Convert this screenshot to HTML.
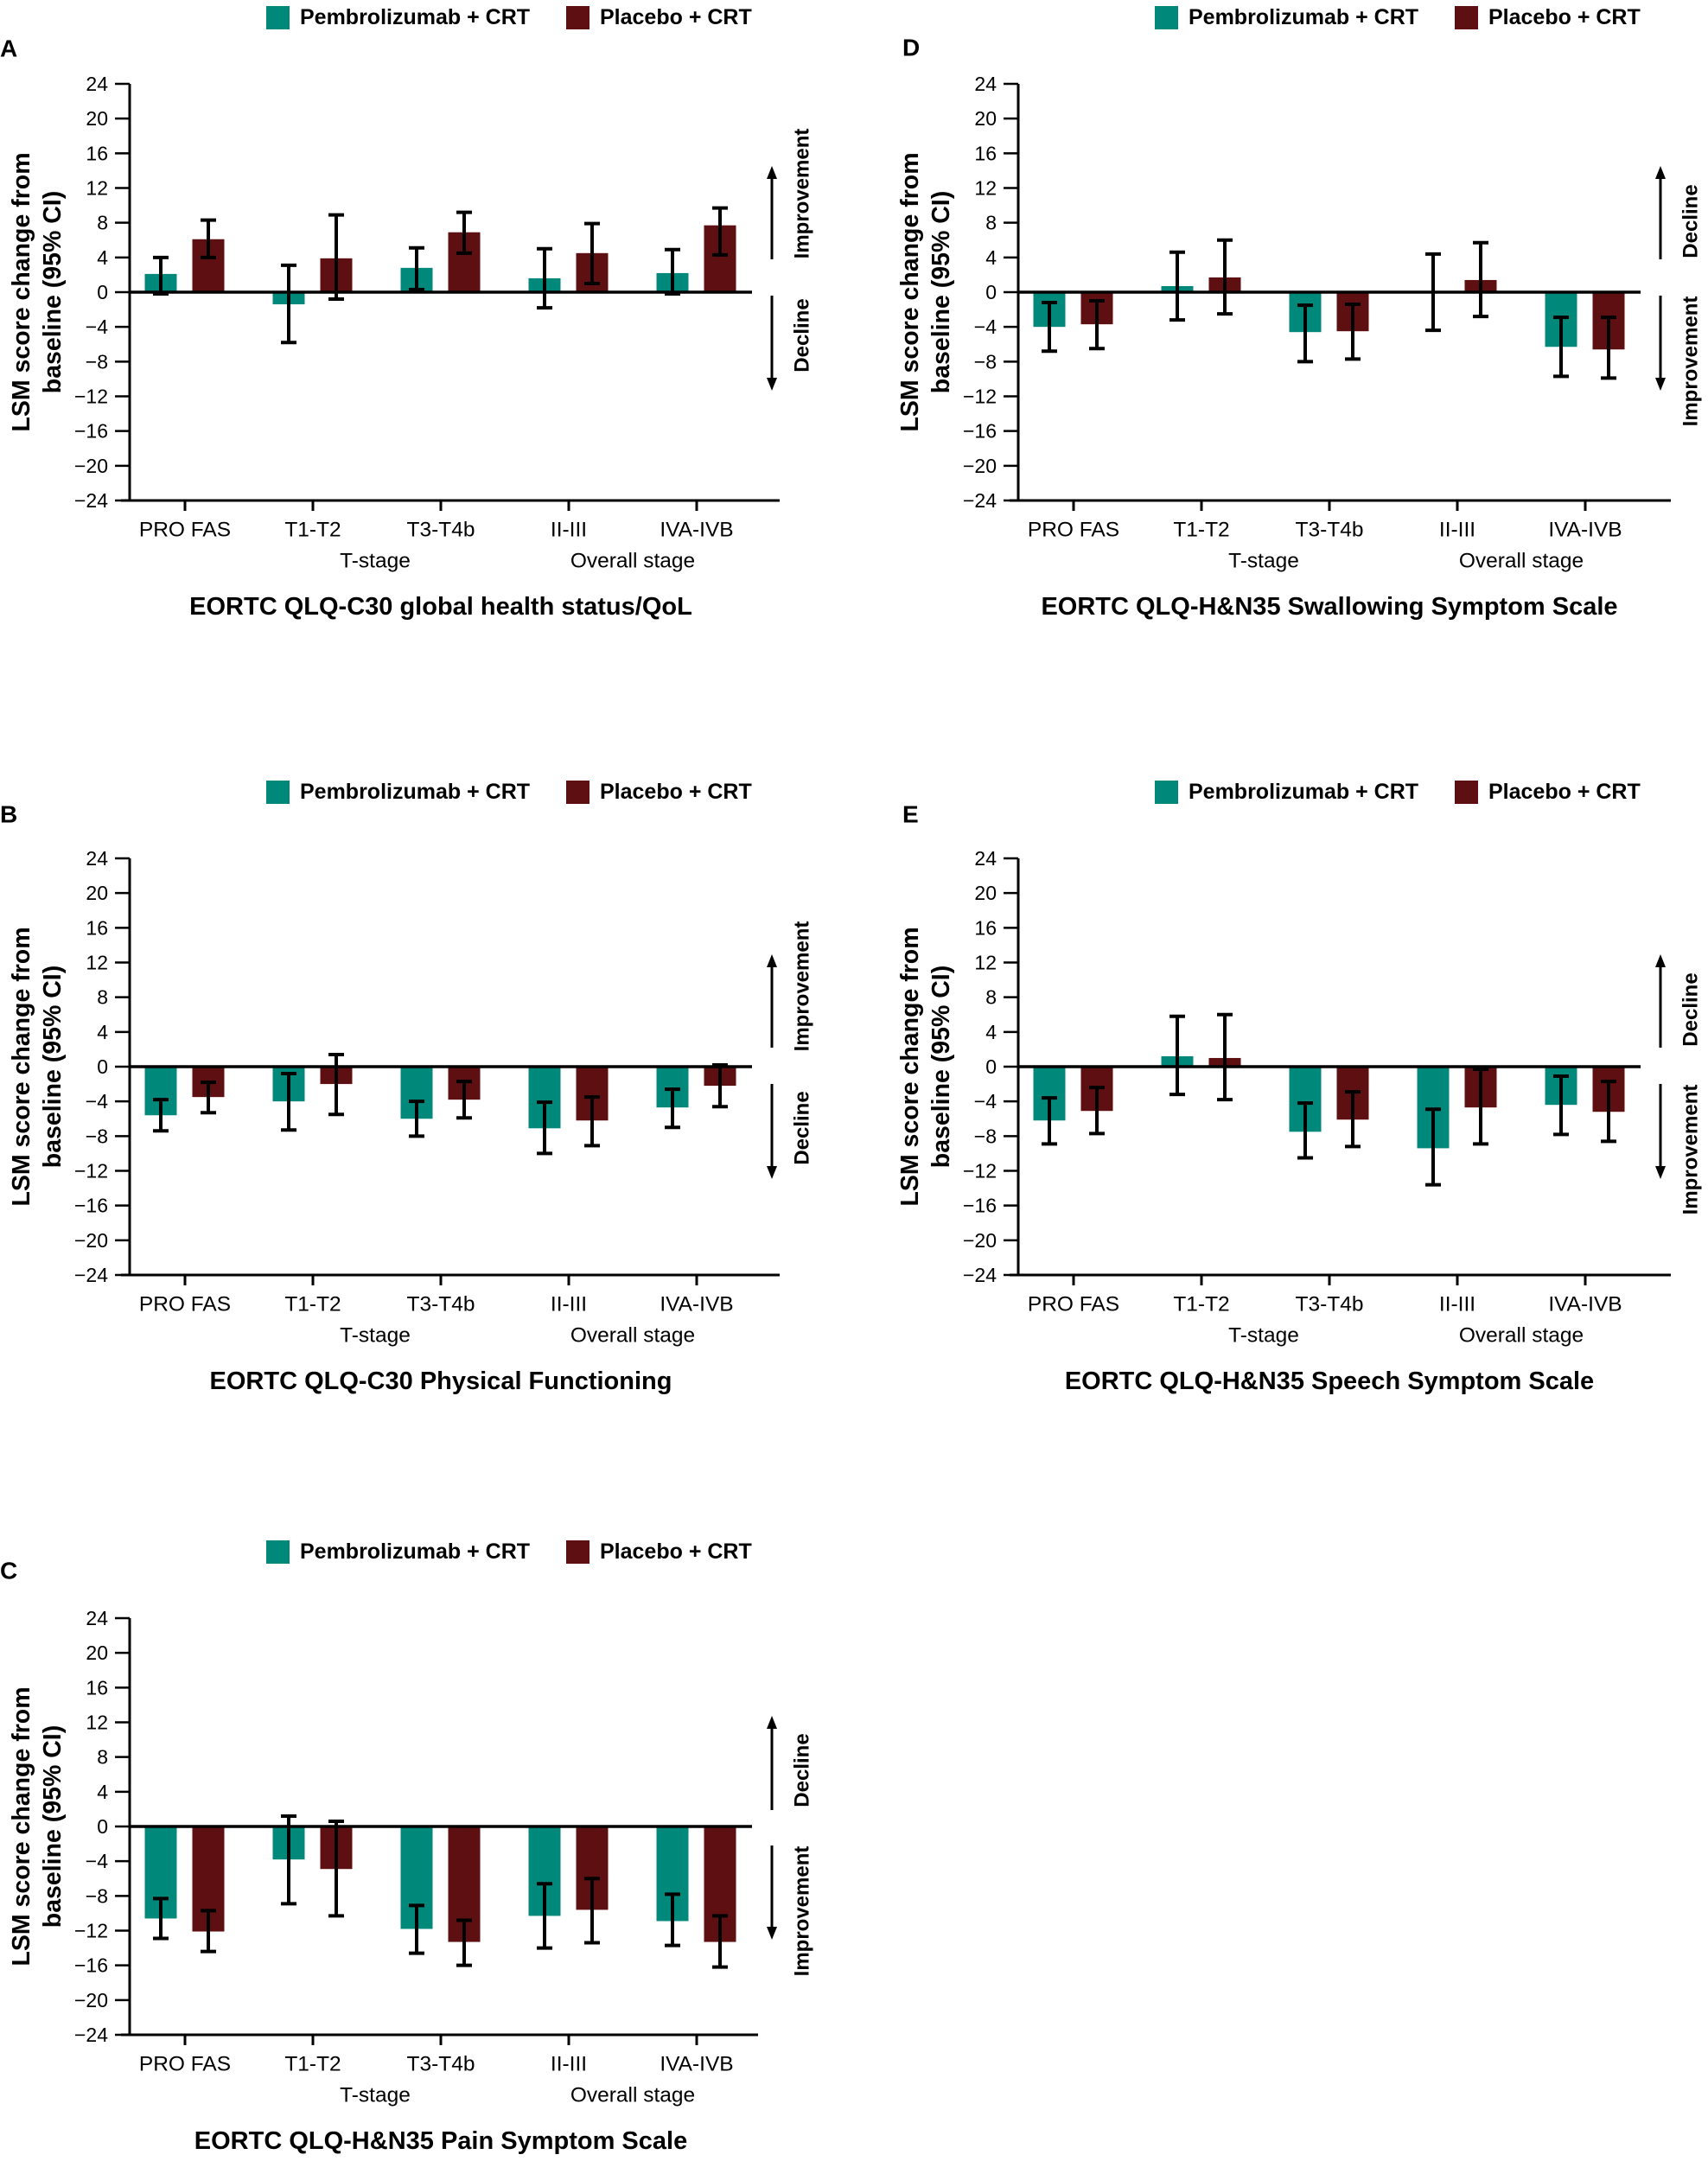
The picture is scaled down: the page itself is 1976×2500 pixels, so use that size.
<!DOCTYPE html>
<html><head><meta charset="utf-8">
<style>
html,body{margin:0;padding:0;background:#fff;}
svg{display:block;font-family:"Liberation Sans",Arial,sans-serif;}
</style></head>
<body>
<svg id="fig" width="1976" height="2500" viewBox="0 0 1976 2500" xmlns="http://www.w3.org/2000/svg"></svg>
<script>
const categories = ["PRO FAS","T1-T2","T3-T4b","II-III","IVA-IVB"];
const yTicks = [24,20,16,12,8,4,0,-4,-8,-12,-16,-20,-24];
const seriesNames = ["Pembrolizumab + CRT","Placebo + CRT"];

// Panel A - QLQ-C30 global health status/QoL
const aPembro   = [2.1,-1.4,2.8,1.6,2.2];
const aPembroLo = [-0.2,-5.8,0.3,-1.8,-0.2];
const aPembroHi = [4.0,3.1,5.1,5.0,4.9];
const aPlacebo   = [6.1,3.9,6.9,4.5,7.7];
const aPlaceboLo = [4.0,-0.8,4.5,1.0,4.3];
const aPlaceboHi = [8.3,8.9,9.2,7.9,9.7];

// Panel B - Physical Functioning
const bPembro   = [-5.6,-4.0,-6.0,-7.1,-4.7];
const bPembroLo = [-7.4,-7.3,-8.0,-10.0,-7.0];
const bPembroHi = [-3.8,-0.8,-4.0,-4.1,-2.6];
const bPlacebo   = [-3.5,-2.0,-3.8,-6.2,-2.2];
const bPlaceboLo = [-5.3,-5.5,-5.9,-9.1,-4.6];
const bPlaceboHi = [-1.8,1.4,-1.7,-3.5,0.2];

// Panel C - Pain Symptom Scale
const cPembro   = [-10.6,-3.8,-11.8,-10.3,-10.9];
const cPembroLo = [-12.9,-8.9,-14.6,-14.0,-13.7];
const cPembroHi = [-8.3,1.2,-9.1,-6.6,-7.8];
const cPlacebo   = [-12.1,-4.9,-13.3,-9.6,-13.3];
const cPlaceboLo = [-14.4,-10.3,-16.0,-13.4,-16.2];
const cPlaceboHi = [-9.7,0.6,-10.8,-6.0,-10.3];

// Panel D - Swallowing Symptom Scale
const dPembro   = [-4.0,0.7,-4.6,0.0,-6.3];
const dPembroLo = [-6.8,-3.2,-8.0,-4.4,-9.7];
const dPembroHi = [-1.2,4.6,-1.5,4.4,-2.9];
const dPlacebo   = [-3.7,1.7,-4.5,1.4,-6.6];
const dPlaceboLo = [-6.5,-2.5,-7.7,-2.8,-9.9];
const dPlaceboHi = [-1.0,6.0,-1.4,5.7,-2.9];

// Panel E - Speech Symptom Scale
const ePembro   = [-6.2,1.2,-7.5,-9.4,-4.4];
const ePembroLo = [-8.9,-3.2,-10.5,-13.6,-7.8];
const ePembroHi = [-3.6,5.8,-4.2,-4.9,-1.1];
const ePlacebo   = [-5.1,1.0,-6.1,-4.7,-5.2];
const ePlaceboLo = [-7.7,-3.8,-9.2,-8.9,-8.6];
const ePlaceboHi = [-2.4,6.0,-2.9,-0.3,-1.7];

const TEAL = "#00897b", MAROON = "#5e0f12";
const NS = "http://www.w3.org/2000/svg";
const svg = document.getElementById("fig");

function mk(tag, attrs, parent){
  const e = document.createElementNS(NS, tag);
  for (const k in attrs) e.setAttribute(k, attrs[k]);
  (parent||svg).appendChild(e);
  return e;
}
function txt(parent, s, x, y, size, weight, anchor){
  const t = mk("text",{x:x,y:y,"font-size":size,"font-weight":weight||"normal","text-anchor":anchor||"middle","dominant-baseline":"central",fill:"#000"},parent);
  t.textContent = s;
  return t;
}

const panels = [
  {id:"a", letter:"A", ax:150, top:97, lx:0, ly:56, title:"EORTC QLQ-C30 global health status/QoL",
   pe:[aPembro,aPembroLo,aPembroHi], pl:[aPlacebo,aPlaceboLo,aPlaceboHi],
   upLab:"Improvement", dnLab:"Decline", up:[95,203], dn:[245,355], upC:127, dnC:291, xEnd:752},
  {id:"b", letter:"B", ax:150, top:993, lx:0, ly:942, title:"EORTC QLQ-C30 Physical Functioning",
   pe:[bPembro,bPembroLo,bPembroHi], pl:[bPlacebo,bPlaceboLo,bPlaceboHi],
   upLab:"Improvement", dnLab:"Decline", up:[111,219], dn:[261,371], upC:148, dnC:312, xEnd:752},
  {id:"c", letter:"C", ax:150, top:1872, lx:0, ly:1817, title:"EORTC QLQ-H&N35 Pain Symptom Scale",
   pe:[cPembro,cPembroLo,cPembroHi], pl:[cPlacebo,cPlaceboLo,cPlaceboHi],
   upLab:"Decline", dnLab:"Improvement", up:[113,222], dn:[263,372], upC:176, dnC:339, xEnd:727},
  {id:"d", letter:"D", ax:1178, top:97, lx:1044, ly:55, title:"EORTC QLQ-H&N35 Swallowing Symptom Scale",
   pe:[dPembro,dPembroLo,dPembroHi], pl:[dPlacebo,dPlaceboLo,dPlaceboHi],
   upLab:"Decline", dnLab:"Improvement", up:[95,203], dn:[245,355], upC:159, dnC:321, xEnd:755},
  {id:"e", letter:"E", ax:1178, top:993, lx:1044, ly:942, title:"EORTC QLQ-H&N35 Speech Symptom Scale",
   pe:[ePembro,ePembroLo,ePembroHi], pl:[ePlacebo,ePlaceboLo,ePlaceboHi],
   upLab:"Decline", dnLab:"Improvement", up:[111,219], dn:[261,371], upC:175, dnC:337, xEnd:755}
];

const H = 482, YMIN = -24, YMAX = 24;

panels.forEach(p => {
  const g = mk("g",{});
  
  
  const ax = p.ax, top = p.top, bot = top + H;
  const yS = v => top + (YMAX - v) / (YMAX - YMIN) * H;
  const xS = i => ax + 64 + i * 148;
  const zero = yS(0);

  const L = txt(g, p.letter, p.lx, p.ly, 28, "bold", "start");
  
  

  const lg = mk("g",{},g);
  
  
  const ly = top - 77;
  [[TEAL, ax+158, ax+197, seriesNames[0]],[MAROON, ax+505, ax+544, seriesNames[1]]].forEach((s,k)=>{
    const e = mk("g",{},lg);
    
    
    mk("rect",{x:s[1], y:ly-13, width:27, height:27, fill:s[0]}, e);
    txt(e, s[3], s[2], ly, 25, "bold", "start");
  });

  const yt = mk("g",{transform:`translate(${ax-107},${zero}) rotate(-90)`},g);
  
  
  txt(yt, "LSM score change from", 0, -18, 28.5, "bold", "middle");
  txt(yt, "baseline (95% CI)", 0, 18, 28.5, "bold", "middle");

  const ya = mk("g",{},g);
  
  
  yTicks.forEach(t => {
    const y = yS(t);
    mk("line",{x1:ax-17, y1:y, x2:ax, y2:y, stroke:"#000","stroke-width":2.5}, ya);
    txt(ya, t < 0 ? "\u2212" + Math.abs(t) : String(t), ax-25, y, 23, "normal", "end");
  });
  mk("line",{x1:ax, y1:top, x2:ax, y2:bot+1.5, stroke:"#000","stroke-width":3}, ya);

  const series = [[p.pe, TEAL, -28, 'pembrolizumab'],[p.pl, MAROON, 27, 'placebo']];
  series.forEach(s => {
    const [vals, lo, hi] = s[0];
    vals.forEach((v,i) => {
      const cx = xS(i) + s[2];
      const y0 = yS(Math.max(v,0)), y1 = yS(Math.min(v,0));
      const b = mk("rect",{x:cx-18.5, y:y0, width:37, height:Math.max(0.01,y1-y0), fill:s[1]}, g);
      
      
    });
  });
  series.forEach(s => {
    const [vals, lo, hi] = s[0];
    vals.forEach((v,i) => {
      const cx = xS(i) + s[2];
      const eg = mk("g",{stroke:"#000","stroke-width":4},g);
      
      
      mk("line",{x1:cx, y1:yS(hi[i]), x2:cx, y2:yS(lo[i])}, eg);
      mk("line",{x1:cx-9, y1:yS(hi[i]), x2:cx+9, y2:yS(hi[i])}, eg);
      mk("line",{x1:cx-9, y1:yS(lo[i]), x2:cx+9, y2:yS(lo[i])}, eg);
    });
  });

  const zl = mk("line",{x1:ax, y1:zero, x2:ax+720, y2:zero, stroke:"#000","stroke-width":3.5}, g);
  
  

  const xa = mk("g",{},g);
  
  
  mk("line",{x1:ax-10, y1:bot, x2:ax+p.xEnd, y2:bot, stroke:"#000","stroke-width":3}, xa);
  categories.forEach((c,i) => {
    mk("line",{x1:xS(i), y1:bot, x2:xS(i), y2:bot+12, stroke:"#000","stroke-width":3}, xa);
    txt(xa, c, xS(i), bot+34, 24.5, "normal", "middle");
  });
  txt(xa, "T-stage", ax+284, bot+70, 24.5, "normal", "middle");
  txt(xa, "Overall stage", ax+582, bot+70, 24.5, "normal", "middle");

  const tt = txt(g, p.title, ax+360, bot+123, 29, "bold", "middle");
  
  

  const ar = mk("g",{},g);
  
  
  const axx = ax + 743;
  mk("line",{x1:axx, y1:top+p.up[0]+10, x2:axx, y2:top+p.up[1], stroke:"#000","stroke-width":3}, ar);
  mk("polygon",{points:`${axx-6},${top+p.up[0]+15} ${axx+6},${top+p.up[0]+15} ${axx},${top+p.up[0]}`, fill:"#000"}, ar);
  mk("line",{x1:axx, y1:top+p.dn[0], x2:axx, y2:top+p.dn[1]-10, stroke:"#000","stroke-width":3}, ar);
  mk("polygon",{points:`${axx-6},${top+p.dn[1]-15} ${axx+6},${top+p.dn[1]-15} ${axx},${top+p.dn[1]}`, fill:"#000"}, ar);
  const lx = ax + 778;
  const u = mk("g",{transform:`translate(${lx},${top+p.upC}) rotate(-90)`}, ar);
  txt(u, p.upLab, 0, 0, 24, "bold", "middle");
  const d = mk("g",{transform:`translate(${lx},${top+p.dnC}) rotate(-90)`}, ar);
  txt(d, p.dnLab, 0, 0, 24, "bold", "middle");
});
</script>
</body></html>
